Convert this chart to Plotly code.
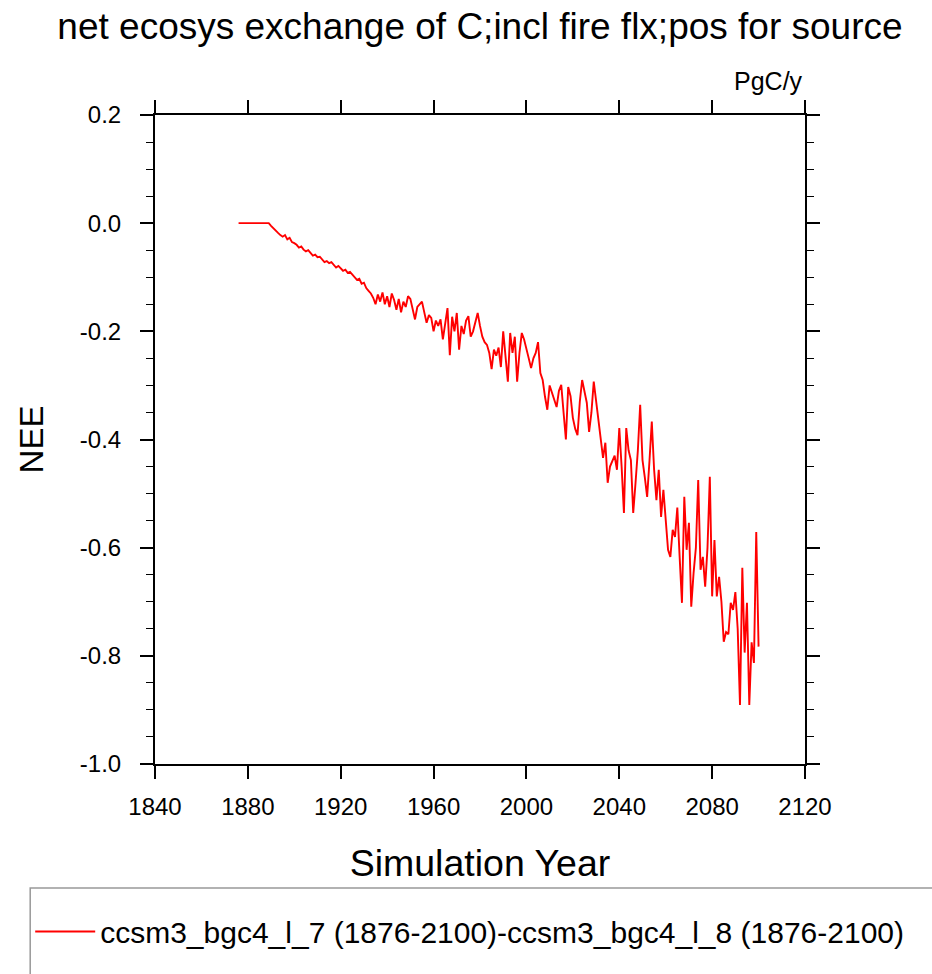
import plotly.graph_objects as go

years = list(range(1876, 2101))

nee = [
    # 1876-1889
    0.0, 0.0, 0.0, 0.0, 0.0, 0.0, 0.0, 0.0, 0.0, 0.0, 0.0, 0.0, 0.0, 0.0,
    # 1890-1899
    -0.005, -0.01, -0.014, -0.018, -0.022, -0.025, -0.022, -0.03, -0.027, -0.035,
    # 1900-1909
    -0.037, -0.04, -0.045, -0.043, -0.049, -0.052, -0.05, -0.056, -0.06, -0.058,
    # 1910-1919
    -0.063, -0.062, -0.068, -0.072, -0.07, -0.074, -0.072, -0.078, -0.082, -0.079,
    # 1920-1929
    -0.084, -0.088, -0.086, -0.092, -0.09, -0.095, -0.098, -0.105, -0.103, -0.112,
    # 1930-1939
    -0.11, -0.12, -0.125, -0.13, -0.138, -0.15, -0.132, -0.145, -0.128, -0.15,
    # 1940-1949
    -0.135, -0.155, -0.13, -0.142, -0.16, -0.14, -0.165, -0.145, -0.155, -0.135,
    # 1950-1959
    -0.14, -0.16, -0.178, -0.155, -0.15, -0.145, -0.165, -0.184, -0.17, -0.175,
    # 1960-1969
    -0.2, -0.18, -0.19, -0.178, -0.215, -0.19, -0.157, -0.244, -0.173, -0.2,
    # 1970-1979
    -0.166, -0.234, -0.19, -0.205, -0.18, -0.172, -0.21, -0.2, -0.18, -0.166,
    # 1980-1989
    -0.19, -0.21, -0.22, -0.225, -0.24, -0.27, -0.234, -0.245, -0.23, -0.266,
    # 1990-1999
    -0.2, -0.25, -0.293, -0.203, -0.24, -0.21, -0.293, -0.24, -0.203, -0.215,
    # 2000-2009
    -0.23, -0.25, -0.268, -0.25, -0.24, -0.22, -0.277, -0.29, -0.321, -0.345,
    # 2010-2019
    -0.3, -0.314, -0.33, -0.34, -0.31, -0.299, -0.35, -0.40, -0.303, -0.32,
    # 2020-2029
    -0.36, -0.38, -0.392, -0.33, -0.29, -0.31, -0.332, -0.386, -0.35, -0.293,
    # 2030-2039
    -0.33, -0.367, -0.4, -0.434, -0.406, -0.48, -0.45, -0.438, -0.43, -0.456,
    # 2040-2049
    -0.379, -0.45, -0.536, -0.379, -0.42, -0.438, -0.536, -0.48, -0.42, -0.336,
    # 2050-2059
    -0.438, -0.47, -0.506, -0.44, -0.367, -0.456, -0.512, -0.456, -0.543, -0.493,
    # 2060-2069
    -0.55, -0.604, -0.617, -0.567, -0.58, -0.526, -0.617, -0.702, -0.506, -0.604,
    # 2070-2079
    -0.554, -0.709, -0.647, -0.6, -0.475, -0.641, -0.617, -0.672, -0.6, -0.469,
    # 2080-2089
    -0.69, -0.586, -0.69, -0.654, -0.7, -0.774, -0.756, -0.76, -0.702, -0.715,
    # 2090-2100
    -0.682, -0.75, -0.891, -0.637, -0.794, -0.702, -0.891, -0.775, -0.813, -0.571, -0.783,
]

series_name = "ccsm3_bgc4_l_7 (1876-2100)-ccsm3_bgc4_l_8 (1876-2100)"
title_text = "net ecosys exchange of C;incl fire flx;pos for source"
units_text = "PgC/y"
x_ticks = [1840, 1880, 1920, 1960, 2000, 2040, 2080, 2120]
y_ticks = [0.2, 0.0, -0.2, -0.4, -0.6, -0.8, -1.0]
y_tick_labels = ["0.2", "0.0", "-0.2", "-0.4", "-0.6", "-0.8", "-1.0"]

FONT = "Liberation Sans, Arial, Helvetica, sans-serif"

fig = go.Figure()
fig.add_trace(go.Scatter(
    x=years, y=nee, mode="lines", name=series_name,
    line=dict(color="#ff0000", width=1.9),
))

axis_common = dict(
    showgrid=False, zeroline=False,
    showline=True, linecolor="black", linewidth=2,
    mirror="ticks", ticks="outside", ticklen=13, tickwidth=1.5, tickcolor="black",
    tickfont=dict(family=FONT, size=24, color="black"),
)

fig.update_layout(
    width=932, height=974,
    margin=dict(l=155, r=127, t=115, b=210),
    paper_bgcolor="white", plot_bgcolor="white",
    title=dict(text=title_text, x=0.515, xanchor="center", y=0.973, yanchor="middle",
               font=dict(family=FONT, size=37, color="black")),
    xaxis=dict(
        range=[1840, 2120], tickmode="array", tickvals=x_ticks,
        ticktext=[str(t) for t in x_ticks], ticklabelstandoff=7,
        title=dict(text="Simulation Year", font=dict(family=FONT, size=37.5, color="black"), standoff=31),
        **axis_common,
    ),
    yaxis=dict(
        range=[-1.0, 0.2], tickmode="array", tickvals=y_ticks, ticktext=y_tick_labels,
        ticklabelstandoff=14,
        minor=dict(dtick=0.05, tick0=0, ticks="outside", ticklen=7, tickwidth=1.2, tickcolor="black"),
        title=dict(text="NEE", font=dict(family=FONT, size=33, color="black"), standoff=26),
        **axis_common,
    ),
    showlegend=True,
    legend=dict(
        x=-0.192, xanchor="left", y=-0.218, yanchor="top",
        bgcolor="rgba(0,0,0,0)", borderwidth=0,
        font=dict(family=FONT, size=30, color="black"),
        tracegroupgap=0, itemwidth=60,
    ),
    annotations=[dict(
        text=units_text, xref="paper", yref="paper", x=1.0, y=1.027,
        xanchor="right", yanchor="bottom", showarrow=False,
        font=dict(family=FONT, size=25, color="black"),
    )],
    shapes=[dict(
        type="rect", xref="paper", yref="paper",
        x0=-0.192, x1=1.3, y0=-0.4, y1=-0.191,
        line=dict(color="#999999", width=1.5), fillcolor="rgba(0,0,0,0)", layer="below",
    )],
)

fig.write_html("out.html")
